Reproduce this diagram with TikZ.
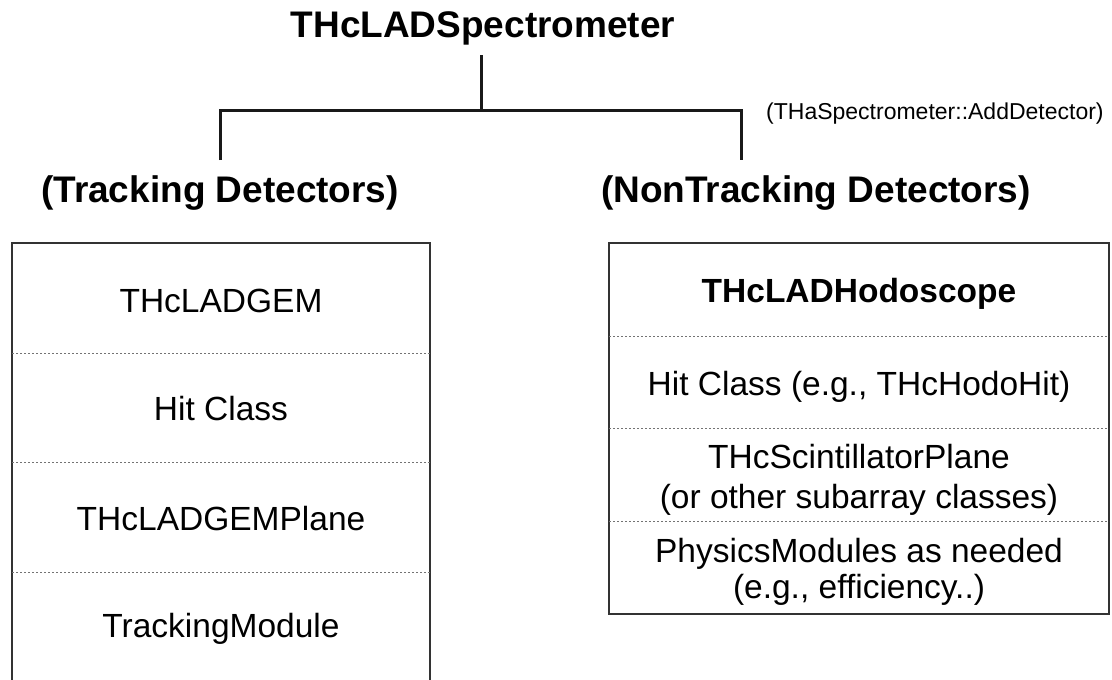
\documentclass[tikz,border=0pt]{standalone}
\usepackage{fontspec}
\setmainfont{Liberation Sans}
\tikzset{
  head/.style={font=\fontsize{37}{44}\selectfont\bfseries, anchor=base, inner sep=0pt},
  cell/.style={font=\fontsize{33.5}{38}\selectfont, anchor=base, inner sep=0pt},
  cellbf/.style={cell, font=\fontsize{33.5}{38}\selectfont\bfseries},
  note/.style={font=\fontsize{23}{28}\selectfont, anchor=base west, inner sep=0pt},
  tree/.style={line width=3pt, draw=black!90},
  frame/.style={line width=2pt, draw=black!80},
  sep/.style={line width=0.8pt, draw=black!55, dash pattern=on 2pt off 2pt}
}
\begin{document}
\begin{tikzpicture}[x=1pt, y=-1pt]
\useasboundingbox (0,0) rectangle (1112,680);
\clip (0,0) rectangle (1112,680);
\node[head] (spec) at (483,37) {THcLADSpectrometer};
\node[head] (trk) at (220,202) {(Tracking Detectors)};
\node[head] (ntrk) at (816,202) {(NonTracking Detectors)};
\node[note] (adddet) at (766,119) {(THaSpectrometer::AddDetector)};
\coordinate (top) at (481,55);
\coordinate (jn) at (481,110);
\coordinate (jl) at (220,110);
\coordinate (jr) at (741,110);
\coordinate (el) at (220,160);
\coordinate (er) at (741,160);
\draw[tree] (top)--(jn);
\draw[tree] (el)--(jl)--(jr)--(er);
% tracking side
\draw[frame] (12,243) rectangle (430,681);
\foreach \y in {353,462,572} \draw[sep] (12,\y)--(430,\y);
\node[cell] (gem) at (221,312) {THcLADGEM};
\node[cell] (gemhit) at (221,420) {Hit Class};
\node[cell] (gemplane) at (221,530) {THcLADGEMPlane};
\node[cell] (trkmod) at (221,637) {TrackingModule};
% non-tracking side
\draw[frame] (609,243) rectangle (1109,614);
\foreach \y in {336,428,521} \draw[sep] (609,\y)--(1109,\y);
\node[cellbf] (hodo) at (859,302) {THcLADHodoscope};
\node[cell] (hodohit) at (859,395) {Hit Class (e.g., THcHodoHit)};
\node[cell] (scint) at (859,468) {THcScintillatorPlane};
\node[cell] (scintsub) at (859,508) {(or other subarray classes)};
\node[cell] (phys) at (859,562) {PhysicsModules as needed};
\node[cell] (physeff) at (859,598) {(e.g., efficiency..)};
\end{tikzpicture}
\end{document}
